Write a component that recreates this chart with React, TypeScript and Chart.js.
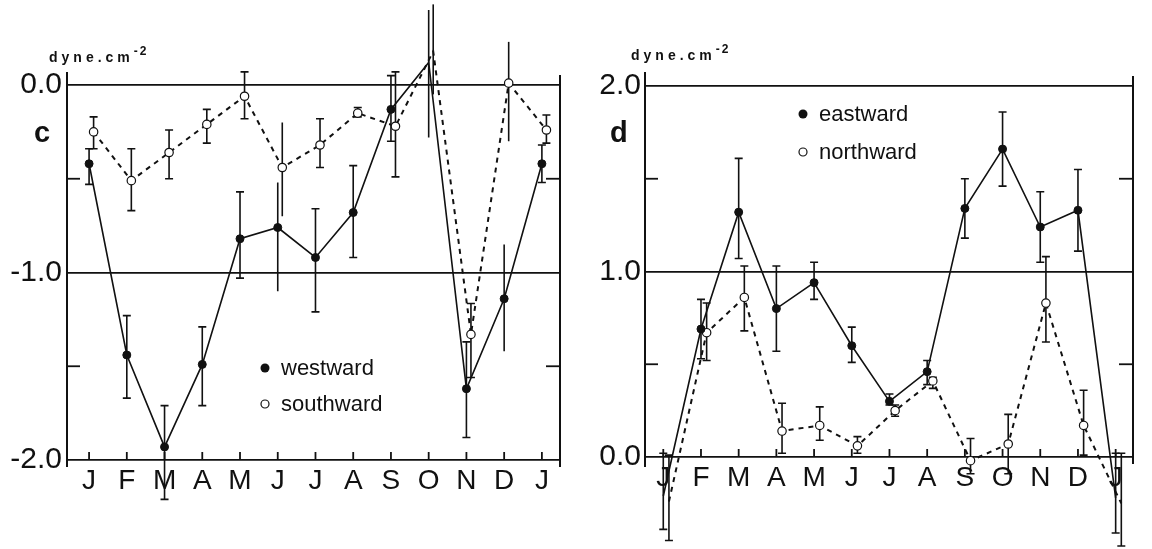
import React, { useEffect, useRef } from 'react';
import { Chart, registerables } from 'chart.js';

Chart.register(...registerables);

const MONTHS = ['J', 'F', 'M', 'A', 'M', 'J', 'J', 'A', 'S', 'O', 'N', 'D', 'J'];

// panel c (dyne.cm^-2)
const WESTWARD = [-0.42, -1.44, -1.93, -1.49, -0.82, -0.76, -0.92, -0.68, -0.13, 0.12, -1.62, -1.14, -0.42];
const WESTWARD_HI = [-0.34, -1.23, -1.71, -1.29, -0.57, -0.52, -0.66, -0.43, 0.05, 0.4, -1.37, -0.85, -0.32];
const WESTWARD_LO = [-0.53, -1.67, -2.21, -1.71, -1.03, -1.1, -1.21, -0.92, -0.3, -0.28, -1.88, -1.42, -0.52];
const SOUTHWARD = [-0.25, -0.51, -0.36, -0.21, -0.06, -0.44, -0.32, -0.15, -0.22, 0.18, -1.33, 0.01, -0.24];
const SOUTHWARD_HI = [-0.17, -0.34, -0.24, -0.13, 0.07, -0.2, -0.18, -0.12, 0.07, 0.43, -1.165, 0.23, -0.16];
const SOUTHWARD_LO = [-0.34, -0.67, -0.5, -0.31, -0.18, -0.7, -0.44, -0.17, -0.49, -0.05, -1.56, -0.3, -0.31];

// panel d (dyne.cm^-2)
const EASTWARD = [-0.21, 0.69, 1.32, 0.8, 0.94, 0.6, 0.3, 0.46, 1.34, 1.66, 1.24, 1.33, -0.22];
const EASTWARD_HI = [0.02, 0.85, 1.61, 1.03, 1.05, 0.7, 0.34, 0.52, 1.5, 1.86, 1.43, 1.55, 0.02];
const EASTWARD_LO = [-0.39, 0.53, 1.07, 0.57, 0.85, 0.51, 0.28, 0.39, 1.18, 1.46, 1.05, 1.11, -0.41];
const NORTHWARD = [-0.24, 0.67, 0.86, 0.14, 0.17, 0.06, 0.25, 0.41, -0.02, 0.07, 0.83, 0.17, -0.25];
const NORTHWARD_HI = [0.01, 0.83, 1.03, 0.29, 0.27, 0.11, 0.28, 0.43, 0.1, 0.23, 1.08, 0.36, 0.02];
const NORTHWARD_LO = [-0.45, 0.52, 0.68, 0.02, 0.09, 0.02, 0.22, 0.37, -0.09, -0.09, 0.62, 0.01, -0.48];

const FONT = '"Liberation Sans", Arial, sans-serif';

type SeriesDef = {
  label: string;
  values: number[];
  hi: number[];
  lo: number[];
  filled: boolean;
  dashed: boolean;
};

type PanelDef = {
  letter: string;
  series: SeriesDef[];
  yMin: number;
  yMax: number;
  xMin: number;
  xMax: number;
  pad: { top: number; right: number; bottom: number };
  yAxisWidth: number;
  yTickPad: number;
  xFont: number;
  midTicks: number[];
  legendX: number;
  legendY: number[];
  unitX: number;
  unitY: number;
  letterX: number;
  letterY: number;
  uncapped: number[];
  dodge: number;
  axisExtTop: number;
  axisExtBottom: number;
};

const PANEL_C: PanelDef = {
  letter: 'c',
  series: [
    { label: 'westward', values: WESTWARD, hi: WESTWARD_HI, lo: WESTWARD_LO, filled: true, dashed: false },
    { label: 'southward', values: SOUTHWARD, hi: SOUTHWARD_HI, lo: SOUTHWARD_LO, filled: false, dashed: true },
  ],
  yMin: -2,
  yMax: 0,
  xMin: -0.585,
  xMax: 12.48,
  pad: { top: 85, right: 16, bottom: 39 },
  yAxisWidth: 67,
  yTickPad: 5,
  xFont: 28,
  midTicks: [-0.5, -1.5],
  legendX: 265,
  legendY: [368, 404],
  unitX: 49,
  unitY: 62,
  letterX: 34,
  letterY: 142,
  uncapped: [5, 9, 11],
  dodge: 0.12,
  axisExtTop: 13,
  axisExtBottom: 7,
};

const PANEL_D: PanelDef = {
  letter: 'd',
  series: [
    { label: 'eastward', values: EASTWARD, hi: EASTWARD_HI, lo: EASTWARD_LO, filled: true, dashed: false },
    { label: 'northward', values: NORTHWARD, hi: NORTHWARD_HI, lo: NORTHWARD_LO, filled: false, dashed: true },
  ],
  yMin: 0,
  yMax: 2,
  xMin: -0.485,
  xMax: 12.46,
  pad: { top: 86, right: 19, bottom: 42 },
  yAxisWidth: 69,
  yTickPad: 4,
  xFont: 28,
  midTicks: [0.5, 1.5],
  legendX: 227,
  legendY: [114, 152],
  unitX: 55,
  unitY: 60,
  letterX: 34,
  letterY: 142,
  uncapped: [],
  dodge: 0.15,
  axisExtTop: 14,
  axisExtBottom: 10,
};

function makeDecor(p: PanelDef) {
  return {
    id: 'decor_' + p.letter,
    beforeDatasetsDraw(chart: any) {
      const ctx = chart.ctx;
      const xs = chart.scales.x;
      const ys = chart.scales.y;
      ctx.save();
      ctx.strokeStyle = '#111';
      ctx.lineWidth = 1.6;
      p.series.forEach((s, si) => {
        s.values.forEach((_v, i) => {
          const x = xs.getPixelForValue(i + si * p.dodge);
          const y1 = ys.getPixelForValue(s.hi[i]);
          const y2 = ys.getPixelForValue(s.lo[i]);
          ctx.beginPath();
          ctx.moveTo(x, y1);
          ctx.lineTo(x, y2);
          if (!p.uncapped.includes(i)) {
            ctx.moveTo(x - 4, y1);
            ctx.lineTo(x + 4, y1);
            ctx.moveTo(x - 4, y2);
            ctx.lineTo(x + 4, y2);
          }
          ctx.stroke();
        });
      });
      ctx.restore();
    },
    afterDraw(chart: any) {
      const ctx = chart.ctx;
      const a = chart.chartArea;
      const xs = chart.scales.x;
      const ys = chart.scales.y;
      const line = (x1: number, y1: number, x2: number, y2: number) => {
        ctx.beginPath();
        ctx.moveTo(x1, y1);
        ctx.lineTo(x2, y2);
        ctx.stroke();
      };
      ctx.save();
      ctx.strokeStyle = '#111';
      ctx.lineWidth = 2;
      line(a.left, a.top - p.axisExtTop, a.left, a.bottom + p.axisExtBottom);
      line(a.right, a.top - 10, a.right, a.bottom + 7);
      ctx.lineWidth = 1.8;
      p.midTicks.forEach((v) => {
        const y = ys.getPixelForValue(v);
        line(a.left, y, a.left + 13, y);
        line(a.right - 14, y, a.right, y);
      });
      MONTHS.forEach((_m, i) => {
        const x = xs.getPixelForValue(i);
        line(x, a.bottom, x, a.bottom - 8);
      });

      ctx.fillStyle = '#111';
      ctx.textBaseline = 'alphabetic';
      ctx.textAlign = 'left';
      ctx.font = 'bold 29px ' + FONT;
      ctx.fillText(p.letter, p.letterX, p.letterY);

      ctx.font = 'bold 14px ' + FONT;
      (ctx as any).letterSpacing = '4px';
      ctx.fillText('dyne.cm', p.unitX, p.unitY);
      const w = ctx.measureText('dyne.cm').width;
      ctx.font = 'bold 12px ' + FONT;
      (ctx as any).letterSpacing = '2px';
      ctx.fillText('-2', p.unitX + w, p.unitY - 7);
      (ctx as any).letterSpacing = '0px';

      ctx.font = '22px ' + FONT;
      ctx.textBaseline = 'middle';
      p.series.forEach((s, si) => {
        const y = p.legendY[si];
        ctx.beginPath();
        if (s.filled) {
          ctx.arc(p.legendX, y, 4.5, 0, Math.PI * 2);
          ctx.fillStyle = '#111';
          ctx.fill();
        } else {
          ctx.arc(p.legendX, y, 4, 0, Math.PI * 2);
          ctx.fillStyle = '#fff';
          ctx.fill();
          ctx.lineWidth = 1.2;
          ctx.stroke();
        }
        ctx.fillStyle = '#111';
        ctx.fillText(s.label, p.legendX + 16, y + 1);
      });
      ctx.restore();
    },
  };
}

function buildConfig(p: PanelDef): any {
  return {
    type: 'line',
    data: {
      datasets: p.series.map((s, si) => ({
        label: s.label,
        data: s.values.map((v, i) => ({ x: i + si * p.dodge, y: v })),
        borderColor: '#111',
        borderWidth: s.dashed ? 2 : 1.6,
        borderDash: s.dashed ? [5, 5] : [],
        pointRadius: s.filled ? 4 : 4.2,
        pointBackgroundColor: s.filled ? '#111' : '#fff',
        pointBorderColor: '#111',
        pointBorderWidth: s.filled ? 1 : 1.2,
        tension: 0,
        fill: false,
        clip: false,
      })),
    },
    options: {
      responsive: false,
      animation: false,
      devicePixelRatio: 1,
      events: [],
      layout: { padding: { left: 0, top: p.pad.top, right: p.pad.right, bottom: p.pad.bottom } },
      plugins: { legend: { display: false }, tooltip: { enabled: false } },
      scales: {
        x: {
          type: 'linear',
          min: p.xMin,
          max: p.xMax,
          afterBuildTicks: (scale: any) => {
            scale.ticks = MONTHS.map((_m, i) => ({ value: i }));
          },
          afterFit: (scale: any) => {
            scale.height = 50;
          },
          ticks: {
            autoSkip: false,
            maxRotation: 0,
            padding: 4,
            color: '#111',
            font: { family: FONT, size: p.xFont },
            callback: (v: number) => MONTHS[Math.round(v)] ?? '',
          },
          grid: { display: false, drawTicks: false },
          border: { display: false },
        },
        y: {
          type: 'linear',
          min: p.yMin,
          max: p.yMax,
          afterFit: (scale: any) => {
            scale.width = p.yAxisWidth;
          },
          ticks: {
            stepSize: 1,
            padding: p.yTickPad,
            color: '#111',
            font: { family: FONT, size: 30 },
            callback: (v: number) => (Math.abs(v) < 1e-9 ? '0.0' : v.toFixed(1)),
          },
          grid: { color: '#111', lineWidth: 1.8, drawTicks: false },
          border: { display: false },
        },
      },
    },
    plugins: [makeDecor(p)],
  };
}

function Panel({ def, left }: { def: PanelDef; left: number }) {
  const ref = useRef<HTMLCanvasElement | null>(null);
  useEffect(() => {
    if (!ref.current) return;
    const chart = new Chart(ref.current, buildConfig(def));
    return () => chart.destroy();
  }, [def]);
  return (
    <div style={{ position: 'absolute', left, top: 0, width: 576, height: 549 }}>
      <canvas ref={ref} width={576} height={549} style={{ width: 576, height: 549, display: 'block' }} />
    </div>
  );
}

export default function App() {
  return (
    <div style={{ position: 'fixed', left: 0, top: 0, width: 1152, height: 549, background: '#fff', overflow: 'hidden' }}>
      <Panel def={PANEL_C} left={0} />
      <Panel def={PANEL_D} left={576} />
    </div>
  );
}
